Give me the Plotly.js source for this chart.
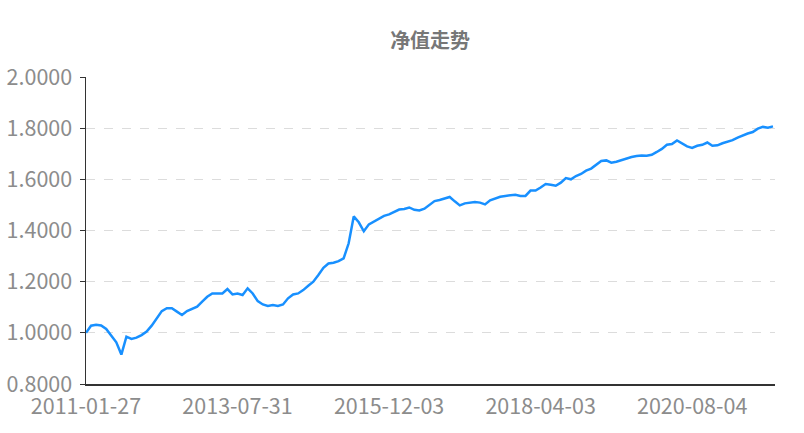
<!DOCTYPE html>
<html>
<head>
<meta charset="utf-8">
<script src="https://cdn.plot.ly/plotly-3.0.1.min.js"></script>
<style>
  html, body { margin: 0; padding: 0; background: #fff; }
  #chart { width: 804px; height: 433px; }
</style>
</head>
<body>
<div id="chart"></div>
<script>
/***********
  DATA
************/

let netValue = [
  1.000, 1.028, 1.032, 1.029, 1.015, 0.988, 0.963, 0.915, 0.985, 0.976,
  0.981, 0.991, 1.005, 1.028, 1.057, 1.085, 1.096, 1.096, 1.083, 1.070,
  1.085, 1.093, 1.102, 1.122, 1.141, 1.154, 1.153, 1.154, 1.171, 1.150,
  1.154, 1.148, 1.174, 1.154, 1.124, 1.111, 1.105, 1.109, 1.105, 1.111,
  1.135, 1.150, 1.154, 1.167, 1.184, 1.200, 1.226, 1.254, 1.271, 1.274,
  1.280, 1.291, 1.350, 1.455, 1.432, 1.397, 1.424, 1.434, 1.444, 1.457,
  1.463, 1.473, 1.482, 1.484, 1.490, 1.481, 1.478, 1.485, 1.501, 1.515,
  1.519, 1.524, 1.531, 1.514, 1.498, 1.506, 1.509, 1.511, 1.509, 1.502,
  1.518, 1.525, 1.532, 1.535, 1.537, 1.540, 1.535, 1.535, 1.556, 1.556,
  1.568, 1.582, 1.579, 1.575, 1.587, 1.605, 1.600, 1.613, 1.621, 1.634,
  1.642, 1.657, 1.672, 1.674, 1.665, 1.669, 1.675, 1.683, 1.687, 1.691,
  1.693, 1.692, 1.696, 1.707, 1.719, 1.735, 1.738, 1.752, 1.741, 1.729,
  1.723, 1.731, 1.735, 1.744, 1.731, 1.733, 1.741, 1.747, 1.753, 1.763,
  1.772, 1.779, 1.785, 1.798, 1.805, 1.802, 1.807
];

// Date labels shown on the category axis and the sample index they sit at
let tickLabels = ['2011-01-27', '2013-07-31', '2015-12-03', '2018-04-03', '2020-08-04'];
let tickIndex = [0, 30, 60, 90, 120];

// Value axis ticks
let valueTicks = [0.8, 1.0, 1.2, 1.4, 1.6, 1.8, 2.0];

/***********
  CHART
************/

function drawChart() {
  let font = '"Noto Sans CJK SC", "Noto Sans", sans-serif';

  // Net value line
  let line = {
    y: netValue,
    type: 'scatter',
    mode: 'lines',
    line: { color: '#1890ff', width: 2.5 },
    hoverinfo: 'skip'
  };

  let layout = {
    width: 804,
    height: 433,
    margin: { l: 86, r: 29, t: 77, b: 49 },
    paper_bgcolor: '#fff',
    plot_bgcolor: '#fff',
    showlegend: false,
    font: { family: font, color: '#8c8c8c', size: 21 },
    title: {
      text: '<b>净值走势</b>',
      x: 0.535,
      xanchor: 'center',
      y: 0.905,
      yanchor: 'middle',
      font: { family: font, size: 20, color: '#777' }
    },
    xaxis: {
      range: [0, 136.4],
      tickmode: 'array',
      tickvals: tickIndex,
      ticktext: tickLabels,
      ticks: '',
      ticklabelstandoff: 3,
      showgrid: false,
      zeroline: false,
      showline: true,
      linecolor: '#333',
      linewidth: 1.5,
      tickfont: { family: font, size: 21.5, color: '#8c8c8c' },
      fixedrange: true
    },
    yaxis: {
      range: [0.8, 2.0],
      tickmode: 'array',
      tickvals: valueTicks,
      tickformat: '.4f',
      ticks: 'outside',
      ticklen: 5,
      tickcolor: '#333',
      ticklabelstandoff: 3,
      showline: true,
      linecolor: '#333',
      linewidth: 1.5,
      zeroline: false,
      showgrid: true,
      gridcolor: '#dcdcdc',
      griddash: 'dash',
      gridwidth: 1,
      tickfont: { family: font, size: 21.5, color: '#8c8c8c' },
      fixedrange: true
    }
  };

  Plotly.newPlot('chart', [line], layout, { staticPlot: true, displayModeBar: false });
}

drawChart();
</script>
</body>
</html>
